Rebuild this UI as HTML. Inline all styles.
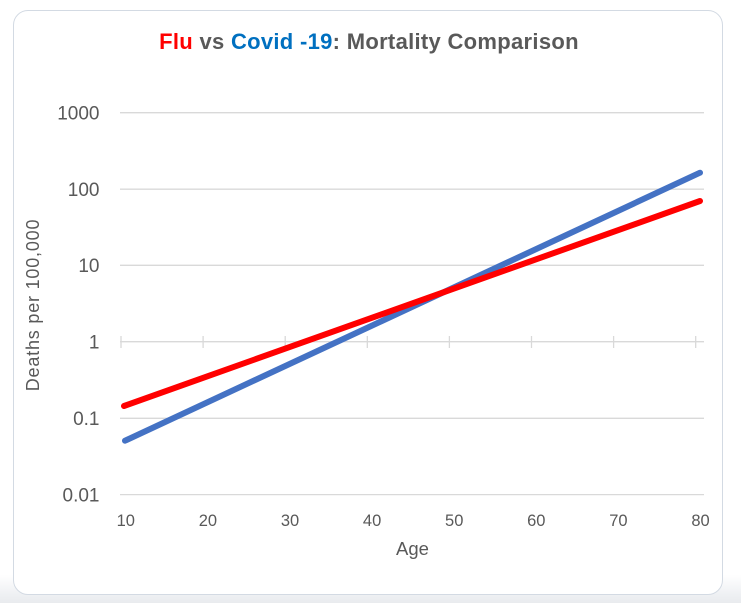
<!DOCTYPE html>
<html>
<head>
<meta charset="utf-8">
<style>
  html, body { margin:0; padding:0; }
  body { width:741px; height:603px; overflow:hidden; position:relative;
         background: linear-gradient(to bottom, #ffffff 0px, #ffffff 575px, #eef0f3 595px, #e9ebee 603px); }
  .card { position:absolute; left:13px; top:10px; width:708px; height:583px;
          border:1.5px solid #d3dae3; border-radius:15px; background:#fff; }
  svg { position:absolute; left:0; top:0; }
  text { font-family:"Liberation Sans", Arial, sans-serif; fill:#595959; }
</style>
</head>
<body>
<div class="card"></div>
<svg width="741" height="603" viewBox="0 0 741 603">
  <!-- Title -->
  <text x="369" y="49" text-anchor="middle" font-size="22" font-weight="bold" letter-spacing="0.3"><tspan fill="#ff0000">Flu</tspan><tspan fill="#595959"> vs </tspan><tspan fill="#0070c0">Covid -19</tspan><tspan fill="#595959">: Mortality Comparison</tspan></text>

  <!-- Gridlines -->
  <g stroke="#d9d9d9" stroke-width="1.3">
    <line x1="120" y1="112.7" x2="704" y2="112.7"/>
    <line x1="120" y1="189.2" x2="704" y2="189.2"/>
    <line x1="120" y1="265.3" x2="704" y2="265.3"/>
    <line x1="120" y1="341.7" x2="704" y2="341.7"/>
    <line x1="120" y1="418.3" x2="704" y2="418.3"/>
    <line x1="120" y1="494.6" x2="704" y2="494.6"/>
  </g>
  <!-- Ticks on the x axis (at 1) -->
  <g stroke="#d9d9d9" stroke-width="1.3">
    <line x1="121" y1="336" x2="121" y2="348"/>
    <line x1="203.1" y1="336" x2="203.1" y2="348"/>
    <line x1="285.2" y1="336" x2="285.2" y2="348"/>
    <line x1="367.3" y1="336" x2="367.3" y2="348"/>
    <line x1="449.4" y1="336" x2="449.4" y2="348"/>
    <line x1="531.5" y1="336" x2="531.5" y2="348"/>
    <line x1="613.6" y1="336" x2="613.6" y2="348"/>
    <line x1="695.7" y1="336" x2="695.7" y2="348"/>
  </g>

  <!-- Y labels -->
  <g font-size="19" text-anchor="end">
    <text x="99.5" y="119.5">1000</text>
    <text x="99.5" y="196">100</text>
    <text x="99.5" y="272">10</text>
    <text x="99.5" y="348.5">1</text>
    <text x="99.5" y="425">0.1</text>
    <text x="99.5" y="501.5">0.01</text>
  </g>

  <!-- X labels -->
  <g font-size="16.5" text-anchor="middle">
    <text x="125.8" y="526">10</text>
    <text x="207.9" y="526">20</text>
    <text x="290" y="526">30</text>
    <text x="372.1" y="526">40</text>
    <text x="454.2" y="526">50</text>
    <text x="536.3" y="526">60</text>
    <text x="618.4" y="526">70</text>
    <text x="700.5" y="526">80</text>
  </g>

  <!-- Axis titles -->
  <text x="412.5" y="555" font-size="18.5" text-anchor="middle">Age</text>
  <text transform="translate(39,305) rotate(-90)" font-size="18" text-anchor="middle" letter-spacing="0.8">Deaths per 100,000</text>

  <!-- Series -->
  <line x1="125" y1="440.7" x2="700" y2="172.7" stroke="#4472c4" stroke-width="6" stroke-linecap="round"/>
  <line x1="124" y1="406" x2="700" y2="201" stroke="#ff0000" stroke-width="6" stroke-linecap="round"/>
</svg>
</body>
</html>
